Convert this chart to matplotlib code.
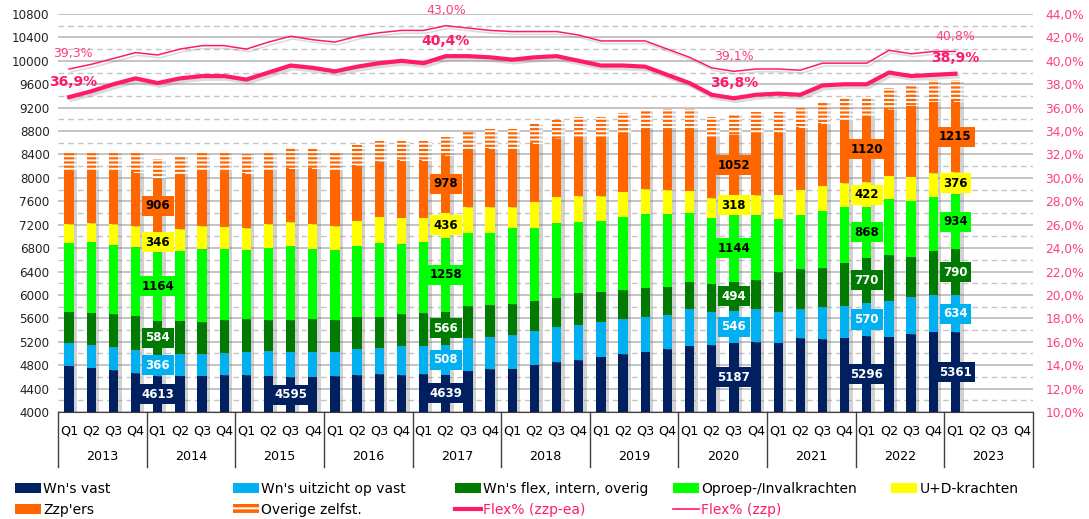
import numpy as np
import matplotlib
matplotlib.use("Agg")
import matplotlib.pyplot as plt
import matplotlib.patheffects as pe
from matplotlib.patches import Patch
from matplotlib.lines import Line2D
from matplotlib.ticker import MultipleLocator, FuncFormatter
from matplotlib.transforms import blended_transform_factory

plt.rcParams["font.family"] = ["DejaVu Sans"]
plt.rcParams["hatch.linewidth"] = 1.4

# ---- data (x1000 werkzamen), 2013 Q1 t/m 2023 Q1 ----
years = [str(y) for y in range(2013, 2024)]
quarters = ["Q1", "Q2", "Q3", "Q4"]

wn_vast = [4792, 4758, 4718, 4661, 4613, 4621, 4621, 4632, 4632, 4621, 4595,
           4604, 4615, 4632, 4649, 4632, 4644, 4639, 4706, 4729, 4740, 4809,
           4854, 4889, 4946, 4985, 5031, 5077, 5133, 5145, 5187, 5190, 5185,
           5259, 5242, 5270, 5296, 5287, 5333, 5373, 5361]
wn_uitzicht = [393, 387, 387, 393, 366, 370, 370, 371, 399, 421, 436, 427, 410,
               445, 439, 496, 489, 508, 553, 547, 576, 575, 604, 598, 598, 598,
               598, 575, 621, 558, 546, 564, 520, 500, 547, 541, 570, 615, 626,
               626, 634]
wn_flex = [530, 552, 564, 592, 584, 570, 547, 569, 558, 530, 541, 552, 547, 552,
           541, 541, 553, 566, 552, 552, 524, 518, 496, 552, 512, 502, 496, 490,
           473, 490, 494, 502, 684, 684, 666, 741, 770, 781, 684, 758, 790]
oproep = [1179, 1202, 1185, 1174, 1164, 1196, 1242, 1213, 1179, 1236, 1265, 1202,
          1196, 1213, 1265, 1196, 1213, 1258, 1253, 1236, 1298, 1248, 1270, 1213,
          1214, 1253, 1258, 1241, 1179, 1128, 1144, 1110, 900, 928, 985, 957,
          868, 957, 968, 923, 934]
ud_krachten = [319, 325, 359, 358, 346, 370, 398, 382, 371, 399, 404, 422, 410,
               428, 446, 455, 422, 436, 433, 433, 359, 444, 456, 439, 421, 427,
               428, 411, 376, 330, 318, 342, 427, 427, 428, 398, 422, 399, 410,
               398, 376]
zzp = [894, 883, 894, 923, 906, 911, 929, 940, 939, 917, 923, 957, 946, 951, 949,
       986, 985, 978, 997, 1009, 997, 997, 996, 1014, 1014, 1008, 1025, 1042,
       1054, 1054, 1052, 1065, 1065, 1065, 1065, 1083, 1120, 1139, 1214, 1225,
       1215]
overige = [330, 342, 342, 336, 344, 342, 319, 342, 336, 325, 342, 325, 325, 342,
           342, 325, 325, 320, 296, 330, 342, 325, 314, 330, 330, 331, 325, 342,
           342, 330, 350, 348, 348, 331, 370, 387, 342, 353, 336, 370, 363]

flex_zzp_ea = [36.9, 37.4, 38.0, 38.5, 38.1, 38.5, 38.7, 38.7, 38.4, 39.0, 39.6,
               39.4, 39.1, 39.5, 39.8, 40.0, 39.8, 40.4, 40.4, 40.3, 40.1, 40.3,
               40.4, 40.0, 39.6, 39.6, 39.5, 38.8, 38.1, 37.1, 36.8, 37.1, 37.2,
               37.1, 37.9, 38.0, 38.0, 39.0, 38.7, 38.8, 38.9]
flex_zzp = [39.3, 39.7, 40.2, 40.7, 40.5, 41.0, 41.3, 41.3, 41.0, 41.6, 42.1,
            41.8, 41.6, 42.1, 42.4, 42.6, 42.6, 43.0, 42.8, 42.6, 42.5, 42.5,
            42.5, 42.2, 41.7, 41.7, 41.7, 41.0, 40.3, 39.4, 39.1, 39.3, 39.3,
            39.2, 39.8, 39.8, 39.8, 40.9, 40.6, 40.8, 40.8]

labeled_bars = [4, 17, 30, 36, 40]     # kwartalen met alle waarden
labeled_vast_only = [10]
labeled_pct = [0, 17, 30, 40]

series = [
    ("Wn's vast", wn_vast, "#002060", "white"),
    ("Wn's uitzicht op vast", wn_uitzicht, "#00B0F0", "white"),
    ("Wn's flex, intern, overig", wn_flex, "#007A00", "white"),
    ("Oproep-/Invalkrachten", oproep, "#00FF00", "black"),
    ("U+D-krachten", ud_krachten, "#FFFF00", "black"),
    ("Zzp'ers", zzp, "#FF6600", "black"),
]
ORANGE = "#FF6600"
PINK = "#FF1A6E"
PINK_LIGHT = "#FF3D86"
GRID = "#C4C4C4"
Y0 = 4000

fig = plt.figure(figsize=(10.89, 5.19), dpi=100)
ax = fig.add_axes([58 / 1089, 107 / 519, 975 / 1089, 398 / 519])

x = np.arange(len(wn_vast))
n_slots = len(years) * len(quarters)
bw = 0.42
shadow = [pe.SimplePatchShadow(offset=(2.5, -0.5), shadow_rgbFace="#808080", alpha=0.35),
          pe.Normal()]

# gestapelde balken; de as begint bij 4000, dus 'Wn's vast' loopt vanaf 4000
bottom = np.zeros(len(x))
bottoms = {}
for name, vals, col, tcol in series:
    vals = np.array(vals, dtype=float)
    bottoms[name] = bottom.copy()
    if name == "Wn's vast":
        bars = ax.bar(x, vals - Y0, bw, bottom=Y0, color=col, linewidth=0, zorder=2)
    else:
        bars = ax.bar(x, vals, bw, bottom=bottom, color=col, linewidth=0, zorder=2)
    for b in bars:
        b.set_path_effects(shadow)
    bottom = bottom + vals
ov = ax.bar(x, overige, bw, bottom=bottom, color=ORANGE, edgecolor="white",
            linewidth=0, hatch="----", zorder=2)
for b in ov:
    b.set_path_effects(shadow)


def seg_label(i, lo, hi, val, fc, tc):
    ax.text(i, (lo + hi) / 2, f"{val}", ha="center", va="center", fontsize=8.5,
            fontweight="bold", color=tc, zorder=6,
            bbox=dict(boxstyle="square,pad=0.3", fc=fc, ec="none"))


for i in labeled_bars + labeled_vast_only:
    for name, vals, col, tcol in series:
        lo = Y0 if name == "Wn's vast" else bottoms[name][i]
        hi = bottoms[name][i] + vals[i]
        seg_label(i, lo, hi, vals[i], col, tcol)
        if i in labeled_vast_only:
            break

ax.set_xlim(-0.5, n_slots - 0.5)
ax.set_ylim(Y0, 10800)
ax.yaxis.set_major_locator(MultipleLocator(400))
ax.yaxis.set_minor_locator(MultipleLocator(200))
ax.grid(which="major", axis="y", color=GRID, linewidth=1.4)
ax.grid(which="minor", axis="y", color=GRID, linewidth=1.0, linestyle=(0, (4, 3)))
ax.set_axisbelow(True)
ax.tick_params(axis="y", which="both", length=0, labelsize=8.6, pad=6, colors="#222222")
for s in ["left", "right", "top"]:
    ax.spines[s].set_visible(False)
ax.spines["bottom"].set_color("#404040")

ax.set_xticks(np.arange(n_slots))
ax.set_xticklabels(quarters * len(years), fontsize=9.2)
ax.tick_params(axis="x", length=0, pad=9)

# jaar-indeling onder de as
tr = blended_transform_factory(ax.transData, ax.transAxes)
for k in range(len(years) + 1):
    ax.plot([k * 4 - 0.5] * 2, [0, -0.138], transform=tr, color="#404040",
            linewidth=1, clip_on=False)
for k, yr in enumerate(years):
    ax.text(k * 4 + 1.5, -0.113, yr, transform=tr, ha="center", va="center", fontsize=9.2)

# flex-percentages op de rechteras
ax2 = ax.twinx()
ax2.set_ylim(10, 44)
ax2.yaxis.set_major_locator(MultipleLocator(2))
ax2.yaxis.set_major_formatter(FuncFormatter(lambda v, p: f"{v:.1f}%".replace(".", ",")))
ax2.tick_params(axis="y", length=0, labelsize=8.8, pad=9, colors=PINK_LIGHT)
for s in ax2.spines.values():
    s.set_visible(False)

line_shadow = [pe.SimpleLineShadow(offset=(1.5, -2), shadow_color="#888888", alpha=0.3),
               pe.Normal()]
ax2.plot(x, flex_zzp_ea, color=PINK, linewidth=3, path_effects=line_shadow, zorder=3)
ax2.plot(x, flex_zzp, color=PINK, linewidth=1.1, path_effects=line_shadow, zorder=3)

for i in labeled_pct:
    dx = 3 if i == 0 else 0
    ax2.annotate(f"{flex_zzp_ea[i]:.1f}%".replace(".", ","), (i, flex_zzp_ea[i]),
                 xytext=(dx, 11), textcoords="offset points", ha="center", va="center",
                 fontsize=10, fontweight="bold", color=PINK)
    ax2.annotate(f"{flex_zzp[i]:.1f}%".replace(".", ","), (i, flex_zzp[i]),
                 xytext=(dx, 11), textcoords="offset points", ha="center", va="center",
                 fontsize=9, color=PINK_LIGHT)

# legenda: 5 kolommen, 2 rijen
handles = [Patch(facecolor=c, linewidth=0) for _, _, c, _ in series]
handles.append(Patch(facecolor=ORANGE, edgecolor="white", linewidth=0, hatch="---"))
handles.append(Line2D([], [], color=PINK, linewidth=3))
handles.append(Line2D([], [], color=PINK, linewidth=1.2))
labels = [s[0] for s in series] + ["Overige zelfst.", "Flex% (zzp-ea)", "Flex% (zzp)"]
col_x = [15, 233, 455, 673, 891]
row_y = [489, 510]
for k, (h, lab) in enumerate(zip(handles, labels)):
    r, c = divmod(k, 5)
    leg = fig.legend([h], [lab], loc="center left",
                     bbox_to_anchor=(col_x[c] / 1089, 1 - row_y[r] / 519),
                     frameon=False, borderpad=0, borderaxespad=0, fontsize=10,
                     handlelength=1.9, handleheight=0.65, handletextpad=0.15)
    if lab.startswith("Flex"):
        leg.get_texts()[0].set_color(PINK)

fig.savefig("out.png", dpi=100)
